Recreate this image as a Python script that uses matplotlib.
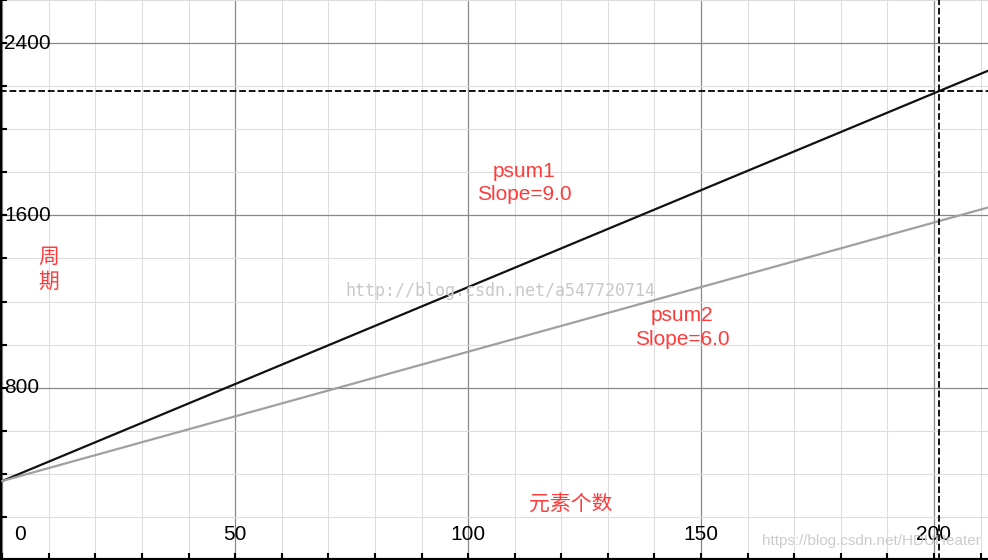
import numpy as np
import matplotlib
matplotlib.use("Agg")
import matplotlib.pyplot as plt
import matplotlib.transforms as mtrans

x_vals = [0, 211.6]
psum1_start = 367
psum1_slope = 9.0
psum2_start = 367
psum2_slope = 6.0
x_ticks = [0, 50, 100, 150, 200]
y_ticks = [800, 1600, 2400]
mark_x = 201
mark_y = 2176

plt.rcParams['font.family'] = ['Liberation Sans', 'Noto Sans CJK SC']
fig = plt.figure(figsize=(9.88, 5.6), dpi=100)
ax = fig.add_axes([0, 0, 1, 1])
ax.set_xlim(-0.5, 211.6)
ax.set_ylim(0, 2600)

x = np.array(x_vals)
ax.plot(x, psum1_start + psum1_slope * x, color='#111111', lw=1.6, zorder=3)
ax.plot(x, psum2_start + psum2_slope * x, color='#a0a0a0', lw=1.6, zorder=3)

ax.set_xticks(np.arange(0, 212, 10), minor=True)
ax.set_yticks(np.arange(0, 2601, 200), minor=True)
ax.set_xticks(x_ticks)
ax.set_yticks(y_ticks)
ax.set_xticklabels([])
ax.set_yticklabels([])
ax.grid(which='minor', color='#dddddd', lw=0.8)
ax.grid(which='major', color='#888888', lw=0.9)
ax.tick_params(which='both', direction='in', length=5, width=1.5, color='black')
for s in ['top', 'right']:
    ax.spines[s].set_visible(False)
for s in ['left', 'bottom']:
    ax.spines[s].set_linewidth(3)

# tick labels drawn inside the plot
xt = ax.get_xaxis_transform()
for v in x_ticks:
    off = mtrans.offset_copy(xt, fig=fig, x=(18 if v == 0 else 0), y=0, units='dots')
    ax.text(v, 0.045, str(v), transform=off, ha='center', va='center', fontsize=15)
yt = ax.get_yaxis_transform()
for v in y_ticks:
    ax.text(0.004, v, str(v), transform=yt, ha='left', va='center', fontsize=15)

ax.axvline(mark_x, color='black', ls='--', lw=1.3, zorder=4)
ax.axhline(mark_y, color='black', ls='--', lw=1.3, zorder=4)

red = '#ff3b3b'
ax.text(112, 1750, 'psum1\nSlope=9.0', color=red, fontsize=15, ha='center', va='center',
        linespacing=1.3)
ax.text(146, 1080, 'psum2\nSlope=6.0', color=red, fontsize=15, ha='center', va='center',
        linespacing=1.3)
ax.text(10, 1350, '周\n期', color=red, fontsize=15, ha='center', va='center',
        family='Noto Sans CJK SC')
ax.text(122, 260, '元素个数', color=red, fontsize=15, ha='center', va='center',
        family='Noto Sans CJK SC')
ax.text(107, 1250, 'http://blog.csdn.net/a547720714', color='#c8c8c8', fontsize=12,
        ha='center', va='center', family='DejaVu Sans Mono')
ax.text(210, 90, 'https://blog.csdn.net/HDUHeater', color='#cccccc', fontsize=11,
        ha='right', va='center')

fig.savefig('out.png', dpi=100)
